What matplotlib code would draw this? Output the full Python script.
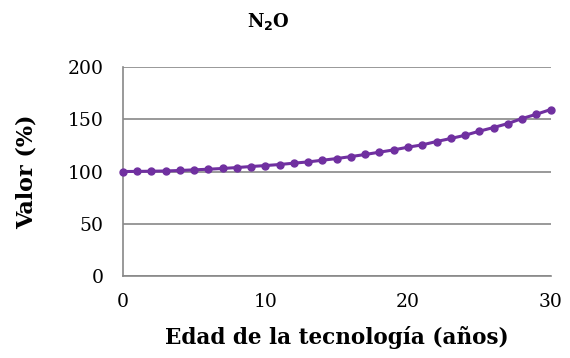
import numpy as np
import matplotlib
matplotlib.use('Agg')
import matplotlib.pyplot as plt

plt.rcParams['font.family'] = 'DejaVu Serif'

edad = list(range(0, 31))
valor = [100.0, 100.1, 100.3, 100.5, 101.0, 101.6, 102.2, 102.9, 103.8, 104.8,
         105.7, 106.7, 108.0, 109.2, 110.8, 112.4, 114.3, 116.3, 118.5, 120.7,
         123.3, 125.5, 128.7, 131.6, 134.7, 138.6, 142.1, 145.9, 150.7, 154.8,
         159.3]

fig = plt.figure(figsize=(5.7, 3.58), dpi=100)
ax = fig.add_axes([0.2153, 0.229, 0.966 - 0.2153, 0.8128 - 0.229])

ax.plot(edad, valor, color='#7030a0', linewidth=2.2, marker='o', markersize=5,
        clip_on=False, zorder=3)

ax.set_xlim(0, 30)
ax.set_ylim(0, 200)
ax.set_xticks([0, 10, 20, 30])
ax.set_yticks([0, 50, 100, 150, 200])
ax.grid(axis='y', color='#888888', linewidth=1.2)
ax.set_axisbelow(True)
for s in ['top', 'right']:
    ax.spines[s].set_visible(False)
for s in ['left', 'bottom']:
    ax.spines[s].set_color('#888888')
    ax.spines[s].set_linewidth(1.2)
ax.tick_params(length=0, labelsize=13.5)
ax.tick_params(axis='y', pad=14)
ax.tick_params(axis='x', pad=12)

fig.text(0.47, 0.94, 'N$_\\mathbf{2}$O', fontsize=13, fontweight='bold',
         ha='center', va='center')
ax.set_xlabel('Edad de la tecnología (años)', fontsize=15.5, fontweight='bold', labelpad=11)
ax.set_ylabel('Valor (%)', fontsize=16, fontweight='bold', labelpad=21)

plt.savefig('out.png', dpi=100)
